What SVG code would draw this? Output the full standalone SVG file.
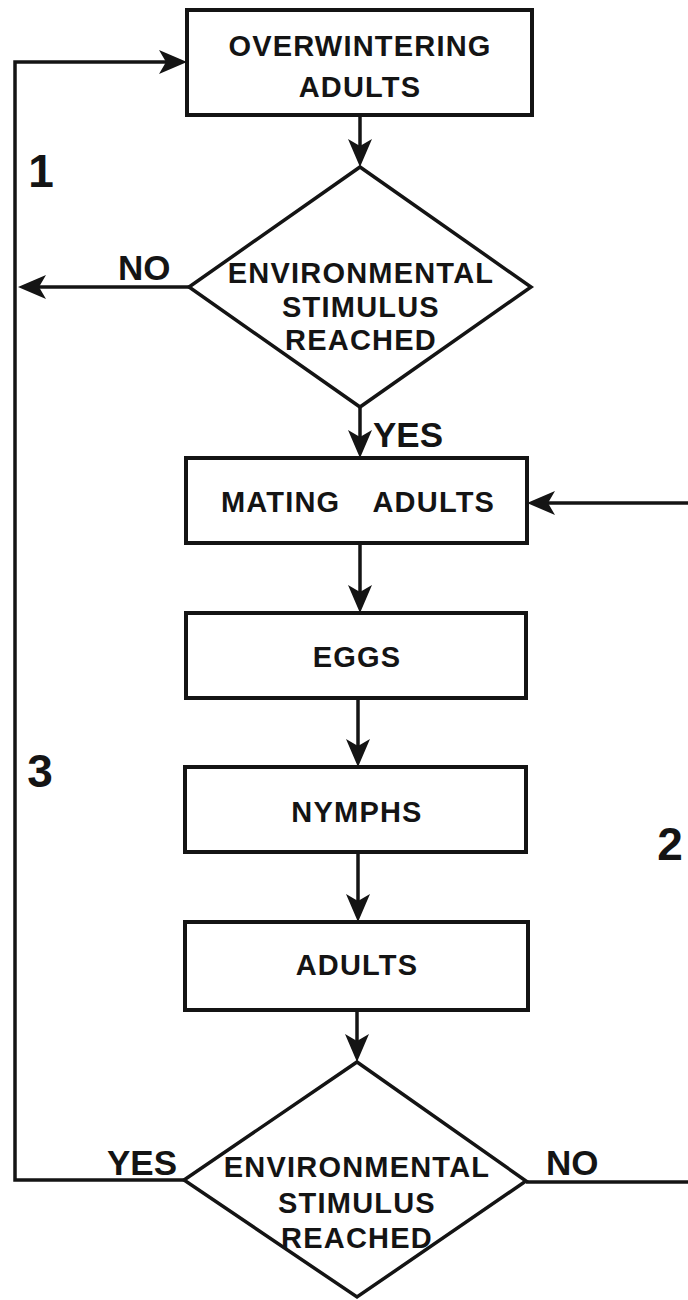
<svg xmlns="http://www.w3.org/2000/svg" width="688" height="1300" viewBox="0 0 688 1300">
<style>
.box{fill:#fff;stroke:#141414;stroke-width:4}
.dia{fill:#fff;stroke:#141414;stroke-width:3.5}
.con{fill:none;stroke:#141414;stroke-width:3.5}
.t{font-family:"Liberation Sans",Arial,sans-serif;font-weight:bold;font-size:29px;letter-spacing:1.2px;fill:#141414;text-anchor:middle}
.lab{font-family:"Liberation Sans",Arial,sans-serif;font-weight:bold;font-size:35px;fill:#141414}
.num{font-family:"Liberation Sans",Arial,sans-serif;font-weight:bold;font-size:46px;fill:#141414;text-anchor:middle}
</style>
<defs>
<marker id="ah" viewBox="-30 -13 32 26" refX="-10" refY="0" markerWidth="32" markerHeight="26" markerUnits="userSpaceOnUse" orient="auto">
<path d="M0,0 L-28,-12 L-21,0 L-28,12 Z" fill="#141414"/>
</marker>
</defs>
<rect width="688" height="1300" fill="#fff"/>
<g id="connectors">
<line class="con" x1="360" y1="115" x2="360" y2="157" marker-end="url(#ah)"/>
<line class="con" x1="360" y1="407" x2="360" y2="448" marker-end="url(#ah)"/>
<line class="con" x1="360" y1="543" x2="360" y2="603" marker-end="url(#ah)"/>
<line class="con" x1="358" y1="698" x2="358" y2="757" marker-end="url(#ah)"/>
<line class="con" x1="358" y1="852" x2="358" y2="912" marker-end="url(#ah)"/>
<line class="con" x1="357" y1="1010" x2="357" y2="1052" marker-end="url(#ah)"/>
<line class="con" x1="189" y1="287" x2="28" y2="287" marker-end="url(#ah)"/>
<path class="con" d="M184,1180 H15 V62 H177" marker-end="url(#ah)"/>
<line class="con" x1="688" y1="503" x2="537" y2="503" marker-end="url(#ah)"/>
<line class="con" x1="526" y1="1182" x2="688" y2="1182"/>
</g>
<g id="overwintering">
<rect class="box" x="187" y="10" width="345" height="105"/>
<text class="t" x="360" y="56">OVERWINTERING</text>
<text class="t" x="360" y="97">ADULTS</text>
</g>
<g id="decision1">
<polygon class="dia" points="360,167 531,287 360,407 189,287"/>
<text class="t" x="361" y="283">ENVIRONMENTAL</text>
<text class="t" x="361" y="317">STIMULUS</text>
<text class="t" x="361" y="350">REACHED</text>
</g>
<g id="mating">
<rect class="box" x="186" y="458" width="341" height="85"/>
<text class="t" x="358" y="512" word-spacing="24">MATING ADULTS</text>
</g>
<g id="eggs">
<rect class="box" x="186" y="613" width="340" height="85"/>
<text class="t" x="357" y="667">EGGS</text>
</g>
<g id="nymphs">
<rect class="box" x="185" y="767" width="341" height="85"/>
<text class="t" x="357" y="822">NYMPHS</text>
</g>
<g id="adults">
<rect class="box" x="185" y="922" width="343" height="88"/>
<text class="t" x="357" y="975">ADULTS</text>
</g>
<g id="decision2">
<polygon class="dia" points="357,1062 526,1181 357,1297 184,1180"/>
<text class="t" x="357" y="1177">ENVIRONMENTAL</text>
<text class="t" x="357" y="1213">STIMULUS</text>
<text class="t" x="357" y="1248">REACHED</text>
</g>
<g id="labels">
<text class="lab" x="118" y="280">NO</text>
<text class="lab" x="373" y="447">YES</text>
<text class="lab" x="107" y="1175">YES</text>
<text class="lab" x="546" y="1175">NO</text>
<text class="num" x="41" y="187">1</text>
<text class="num" x="670" y="860">2</text>
<text class="num" x="40" y="787">3</text>
</g>
</svg>
